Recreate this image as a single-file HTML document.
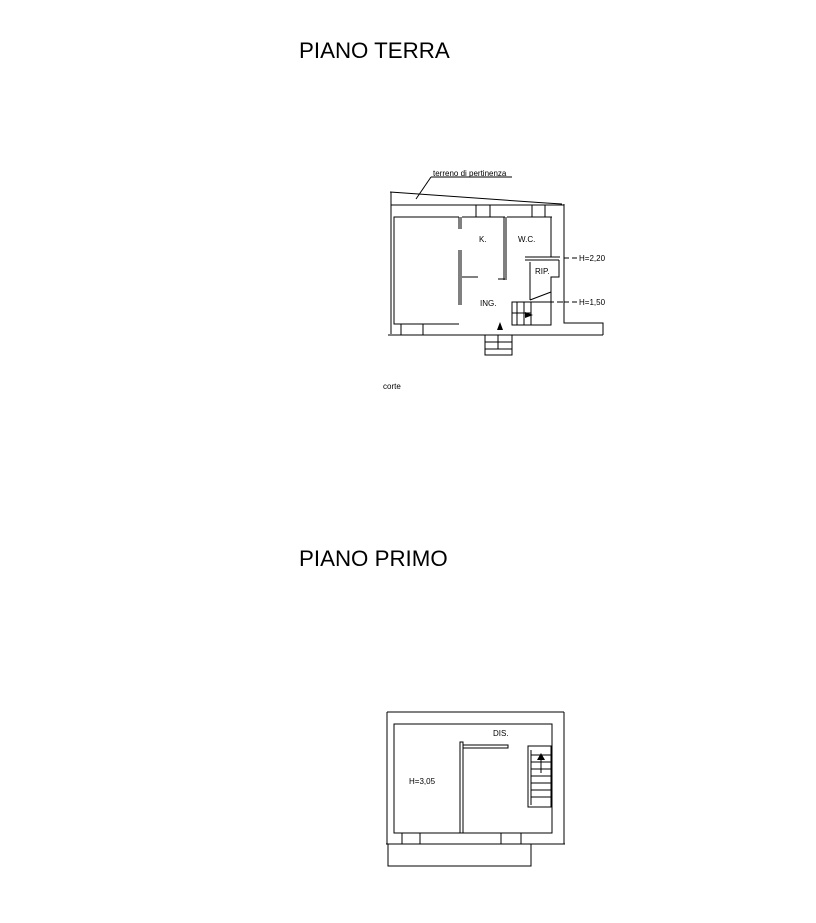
<!DOCTYPE html>
<html><head><meta charset="utf-8"><style>
html,body{margin:0;padding:0;background:#fff;width:816px;height:923px;overflow:hidden}
svg{display:block}
</style></head><body>
<svg width="816" height="923" viewBox="0 0 816 923" xmlns="http://www.w3.org/2000/svg" font-family="Liberation Sans, sans-serif">
<text x="299" y="58" font-size="22.3">PIANO TERRA</text>
<text x="299" y="566" font-size="22.3">PIANO PRIMO</text>
<g fill="none" stroke="#000" stroke-width="1">
<line x1="390" y1="192" x2="546" y2="203"/>
<line x1="546" y1="203" x2="562" y2="204"/>
<line x1="431" y1="177" x2="512" y2="177"/>
<line x1="431" y1="177" x2="416" y2="199"/>
<line x1="391" y1="192" x2="391" y2="334"/>
<line x1="391" y1="205" x2="564" y2="205"/>
<polyline points="564,204 564,323 603,323 603,335"/>
<line x1="388" y1="335" x2="494" y2="335"/>
<line x1="511" y1="335" x2="603" y2="335"/>
<polyline points="459,217 394,217 394,324 459,324"/>
<line x1="459" y1="217" x2="459" y2="229"/>
<line x1="461" y1="217" x2="461" y2="229"/>
<line x1="462" y1="217" x2="505" y2="217"/>
<line x1="459" y1="250" x2="459" y2="305"/>
<line x1="461" y1="250" x2="461" y2="305"/>
<line x1="462" y1="277" x2="478" y2="277"/>
<line x1="504" y1="217" x2="504" y2="280"/>
<line x1="506" y1="217" x2="506" y2="280"/>
<line x1="498" y1="279" x2="505" y2="279"/>
<line x1="507" y1="217" x2="552" y2="217"/>
<line x1="551" y1="217" x2="551" y2="257"/>
<line x1="525" y1="257" x2="560" y2="257"/>
<line x1="525" y1="260" x2="559" y2="260"/>
<polyline points="530,262 530,300"/>
<polyline points="559,260 559,277 551,277 551,325"/>
<line x1="530" y1="300" x2="551" y2="292"/>
<rect x="512" y="302" width="39" height="23"/>
<line x1="512" y1="313" x2="531" y2="313"/>
<line x1="524" y1="302" x2="524" y2="325"/>
<line x1="517" y1="302" x2="517" y2="325"/>
<line x1="531" y1="302" x2="531" y2="325"/>
<line x1="530" y1="302" x2="564" y2="302" stroke-dasharray="6,3"/>
<rect x="476" y="205" width="14" height="12"/>
<rect x="532" y="205" width="13" height="12"/>
<rect x="401" y="324" width="22" height="11"/>
<rect x="485" y="335" width="27" height="20"/>
<line x1="485" y1="342" x2="512" y2="342"/>
<line x1="485" y1="349" x2="512" y2="349"/>
<line x1="498" y1="335" x2="498" y2="349"/>
<line x1="564" y1="258" x2="578" y2="258" stroke-dasharray="5,3"/>
<line x1="564" y1="302" x2="578" y2="302" stroke-dasharray="5,3"/>
<line x1="387" y1="712" x2="387" y2="844"/>
<line x1="387" y1="712" x2="564" y2="712"/>
<line x1="564" y1="712" x2="564" y2="844"/>
<line x1="386" y1="844" x2="565" y2="844"/>
<polyline points="388,844 388,866 531,866 531,844"/>
<rect x="394" y="724" width="158" height="109"/>
<rect x="460" y="742" width="3" height="91"/>
<rect x="463" y="745" width="45" height="3"/>
<rect x="528" y="746" width="23" height="61"/>
<line x1="531" y1="750" x2="531" y2="805"/>
<line x1="531" y1="755" x2="551" y2="755"/>
<line x1="531" y1="762" x2="551" y2="762"/>
<line x1="531" y1="769" x2="551" y2="769"/>
<line x1="531" y1="776" x2="551" y2="776"/>
<line x1="531" y1="783" x2="551" y2="783"/>
<line x1="531" y1="790" x2="551" y2="790"/>
<line x1="531" y1="797" x2="551" y2="797"/>
<line x1="541" y1="758" x2="541" y2="773"/>
<line x1="402" y1="833" x2="402" y2="844"/><line x1="420" y1="833" x2="420" y2="844"/>
<line x1="501" y1="833" x2="501" y2="844"/><line x1="521" y1="833" x2="521" y2="844"/>
</g>
<polygon points="497,330 500,322 503,330" fill="#000"/>
<polygon points="525,312 533,315 525,318" fill="#000"/>
<polygon points="537,760 541,753 545,760" fill="#000"/>
<g font-size="8" fill="#000">
<text x="433" y="176">terreno di pertinenza</text>
<text x="479" y="242">K.</text>
<text x="518" y="242">W.C.</text>
<text x="535" y="274">RIP.</text>
<text x="480" y="306">ING.</text>
<text x="579" y="261">H=2,20</text>
<text x="579" y="305">H=1,50</text>
<text x="383" y="389">corte</text>
<text x="493" y="736">DIS.</text>
<text x="409" y="784">H=3,05</text>
</g>
</svg>
</body></html>
